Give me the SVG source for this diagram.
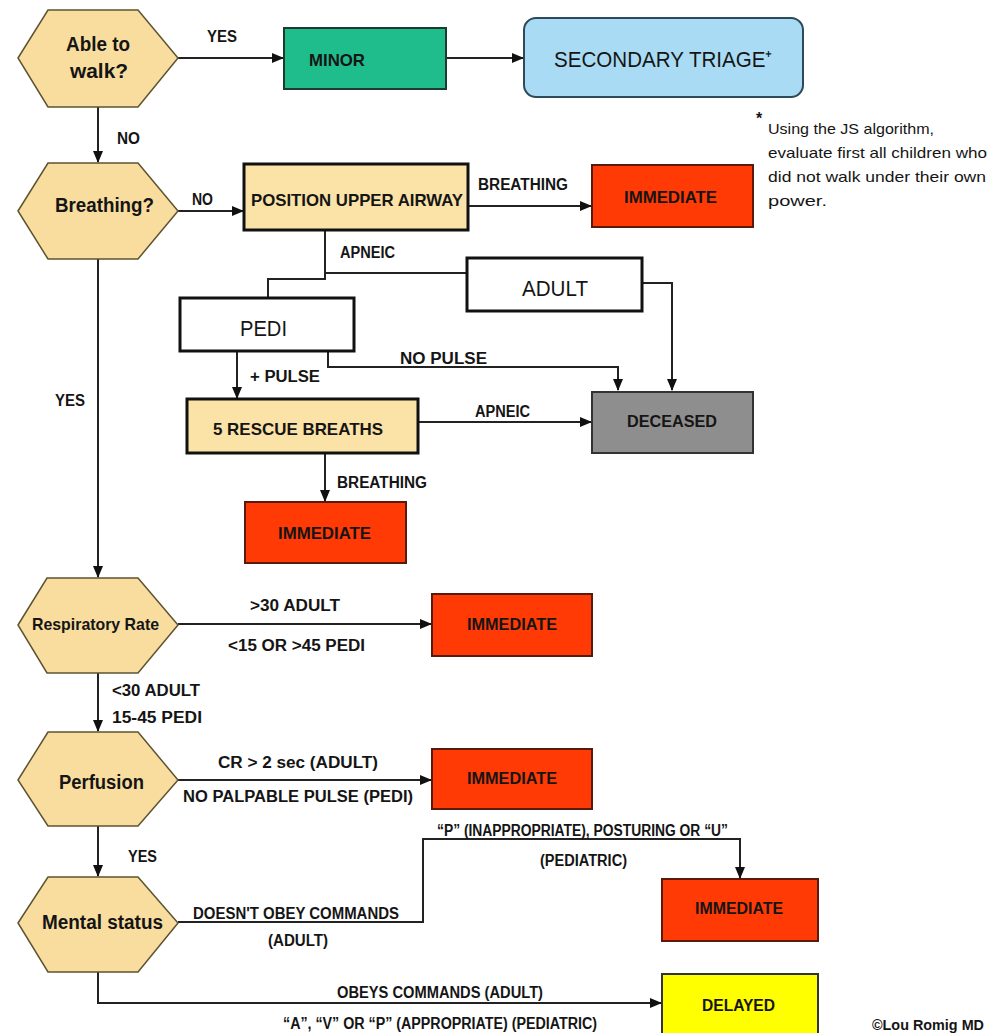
<svg xmlns="http://www.w3.org/2000/svg" width="989" height="1033" viewBox="0 0 989 1033">
<defs>
<marker id="ah" markerUnits="userSpaceOnUse" markerWidth="12" markerHeight="10" refX="11" refY="5" orient="auto">
<path d="M0,0 L12,5 L0,10 Z" fill="#111"/>
</marker>
<style>
.bg{fill:#fff}
.hex{fill:#F9DD9F;stroke:#5e5330;stroke-width:1.5}
.tan{fill:#FBE3A8;stroke:#111;stroke-width:3}
.white{fill:#fff;stroke:#111;stroke-width:3}
.red{fill:#FF3A05;stroke:#5a1a0a;stroke-width:2}
.teal{fill:#1FBD8C;stroke:#1f3b30;stroke-width:2}
.blue{fill:#A9DCF4;stroke:#2e4a58;stroke-width:2}
.gray{fill:#8E8E8E;stroke:#333;stroke-width:2}
.yellow{fill:#FFFF00;stroke:#333;stroke-width:2}
.c{fill:none;stroke:#222;stroke-width:2}
text{font-family:"Liberation Sans",Arial,sans-serif;fill:#151515}
.lb{font-size:16px;font-weight:bold}
.hx{font-size:20px;font-weight:bold}
.bx{font-size:17px;font-weight:bold}
.big{font-size:22px}
.note{font-size:15px}
</style>
</defs>
<rect class="bg" x="0" y="0" width="989" height="1033"/>

<g id="connectors">
<path class="c" d="M178,58 H283" marker-end="url(#ah)"/>
<path class="c" d="M446,58 H523" marker-end="url(#ah)"/>
<path class="c" d="M98,107 V162" marker-end="url(#ah)"/>
<path class="c" d="M178,211 H243" marker-end="url(#ah)"/>
<path class="c" d="M468,206 H591" marker-end="url(#ah)"/>
<path class="c" d="M325,230 V279 H268 V298"/>
<path class="c" d="M325,273 H467"/>
<path class="c" d="M642,283 H672 V390" marker-end="url(#ah)"/>
<path class="c" d="M328,351 V367 H618 V390" marker-end="url(#ah)"/>
<path class="c" d="M237,351 V398" marker-end="url(#ah)"/>
<path class="c" d="M418,422 H591" marker-end="url(#ah)"/>
<path class="c" d="M325,453 V501" marker-end="url(#ah)"/>
<path class="c" d="M98,259 V577" marker-end="url(#ah)"/>
<path class="c" d="M178,624 H431" marker-end="url(#ah)"/>
<path class="c" d="M98,673 V731" marker-end="url(#ah)"/>
<path class="c" d="M178,780 H431" marker-end="url(#ah)"/>
<path class="c" d="M98,826 V876" marker-end="url(#ah)"/>
<path class="c" d="M178,922 H423 V839 H740 V878" marker-end="url(#ah)"/>
<path class="c" d="M98,972 V1003 H661" marker-end="url(#ah)"/>
</g>

<g id="able-to-walk">
<polygon class="hex" points="18,58 48,10 138,10 178,58 138,107 48,107"/>
<text class="hx" x="66" y="51" textLength="64" lengthAdjust="spacingAndGlyphs">Able to</text>
<text class="hx" x="70" y="78" textLength="58" lengthAdjust="spacingAndGlyphs">walk?</text>
</g>
<g id="minor">
<rect class="teal" x="284" y="28" width="162" height="61"/>
<text class="bx" x="309" y="66" textLength="56" lengthAdjust="spacingAndGlyphs">MINOR</text>
</g>
<g id="secondary-triage">
<rect class="blue" x="524" y="18" width="279" height="79" rx="12"/>
<text class="big" x="554" y="67" textLength="218" lengthAdjust="spacingAndGlyphs">SECONDARY TRIAGE⁺</text>
</g>
<g id="footnote">
<text x="756" y="124" style="font-size:16px;font-weight:bold">*</text>
<text class="note" x="768" y="134" textLength="166" lengthAdjust="spacingAndGlyphs">Using the JS algorithm,</text>
<text class="note" x="768" y="158" textLength="219" lengthAdjust="spacingAndGlyphs">evaluate first all children who</text>
<text class="note" x="768" y="182" textLength="218" lengthAdjust="spacingAndGlyphs">did not walk under their own</text>
<text class="note" x="768" y="206" textLength="59" lengthAdjust="spacingAndGlyphs">power.</text>
</g>
<g id="breathing">
<polygon class="hex" points="18,211 48,163 138,163 178,211 138,259 48,259"/>
<text class="hx" x="55" y="212" textLength="99" lengthAdjust="spacingAndGlyphs">Breathing?</text>
</g>
<g id="position-upper-airway">
<rect class="tan" x="244" y="164" width="224" height="66"/>
<text class="bx" x="251" y="206" textLength="212" lengthAdjust="spacingAndGlyphs">POSITION UPPER AIRWAY</text>
</g>
<g id="immediate-1">
<rect class="red" x="592" y="165" width="161" height="62"/>
<text class="bx" x="624" y="203" textLength="93" lengthAdjust="spacingAndGlyphs">IMMEDIATE</text>
</g>
<g id="adult">
<rect class="white" x="467" y="258" width="175" height="53"/>
<text class="big" x="522" y="296" textLength="66" lengthAdjust="spacingAndGlyphs">ADULT</text>
</g>
<g id="pedi">
<rect class="white" x="180" y="298" width="174" height="53"/>
<text class="big" x="240" y="336" textLength="47" lengthAdjust="spacingAndGlyphs">PEDI</text>
</g>
<g id="rescue-breaths">
<rect class="tan" x="187" y="399" width="231" height="54"/>
<text class="bx" x="213" y="435" textLength="170" lengthAdjust="spacingAndGlyphs">5 RESCUE BREATHS</text>
</g>
<g id="deceased">
<rect class="gray" x="592" y="392" width="161" height="61"/>
<text class="bx" x="627" y="427" textLength="90" lengthAdjust="spacingAndGlyphs">DECEASED</text>
</g>
<g id="immediate-2">
<rect class="red" x="245" y="502" width="161" height="61"/>
<text class="bx" x="278" y="539" textLength="93" lengthAdjust="spacingAndGlyphs">IMMEDIATE</text>
</g>
<g id="respiratory-rate">
<polygon class="hex" points="18,625 47,578 138,578 178,625 138,673 47,673"/>
<text class="bx" x="32" y="630" textLength="127" lengthAdjust="spacingAndGlyphs">Respiratory Rate</text>
</g>
<g id="immediate-3">
<rect class="red" x="432" y="594" width="160" height="62"/>
<text class="bx" x="467" y="630" textLength="90" lengthAdjust="spacingAndGlyphs">IMMEDIATE</text>
</g>
<g id="perfusion">
<polygon class="hex" points="18,780 48,732 138,732 178,780 138,826 48,826"/>
<text class="hx" x="59" y="789" textLength="85" lengthAdjust="spacingAndGlyphs">Perfusion</text>
</g>
<g id="immediate-4">
<rect class="red" x="432" y="749" width="160" height="60"/>
<text class="bx" x="467" y="784" textLength="90" lengthAdjust="spacingAndGlyphs">IMMEDIATE</text>
</g>
<g id="mental-status">
<polygon class="hex" points="18,923 48,877 138,877 178,923 138,972 48,972"/>
<text class="hx" x="42" y="929" textLength="121" lengthAdjust="spacingAndGlyphs">Mental status</text>
</g>
<g id="immediate-5">
<rect class="red" x="662" y="879" width="156" height="62"/>
<text class="bx" x="695" y="914" textLength="88" lengthAdjust="spacingAndGlyphs">IMMEDIATE</text>
</g>
<g id="delayed">
<rect class="yellow" x="662" y="974" width="156" height="64"/>
<text class="bx" x="702" y="1011" textLength="73" lengthAdjust="spacingAndGlyphs">DELAYED</text>
</g>

<g id="labels">
<text class="lb" x="207" y="42" textLength="30" lengthAdjust="spacingAndGlyphs">YES</text>
<text class="lb" x="117" y="144" textLength="23" lengthAdjust="spacingAndGlyphs">NO</text>
<text class="lb" x="192" y="205" textLength="21" lengthAdjust="spacingAndGlyphs">NO</text>
<text class="lb" x="478" y="190" textLength="90" lengthAdjust="spacingAndGlyphs">BREATHING</text>
<text class="lb" x="340" y="258" textLength="55" lengthAdjust="spacingAndGlyphs">APNEIC</text>
<text class="lb" x="400" y="364" textLength="87" lengthAdjust="spacingAndGlyphs">NO PULSE</text>
<text class="lb" x="250" y="382" textLength="70" lengthAdjust="spacingAndGlyphs">+ PULSE</text>
<text class="lb" x="475" y="417" textLength="55" lengthAdjust="spacingAndGlyphs">APNEIC</text>
<text class="lb" x="337" y="488" textLength="90" lengthAdjust="spacingAndGlyphs">BREATHING</text>
<text class="lb" x="55" y="406" textLength="30" lengthAdjust="spacingAndGlyphs">YES</text>
<text class="lb" x="250" y="611" textLength="90" lengthAdjust="spacingAndGlyphs">&gt;30 ADULT</text>
<text class="lb" x="228" y="651" textLength="137" lengthAdjust="spacingAndGlyphs">&lt;15 OR &gt;45 PEDI</text>
<text class="lb" x="112" y="696" textLength="88" lengthAdjust="spacingAndGlyphs">&lt;30 ADULT</text>
<text class="lb" x="112" y="723" textLength="90" lengthAdjust="spacingAndGlyphs">15-45 PEDI</text>
<text class="lb" x="218" y="768" textLength="160" lengthAdjust="spacingAndGlyphs">CR &gt; 2 sec (ADULT)</text>
<text class="lb" x="183" y="802" textLength="230" lengthAdjust="spacingAndGlyphs">NO PALPABLE PULSE (PEDI)</text>
<text class="lb" x="128" y="862" textLength="29" lengthAdjust="spacingAndGlyphs">YES</text>
<text class="lb" x="193" y="919" textLength="206" lengthAdjust="spacingAndGlyphs">DOESN'T OBEY COMMANDS</text>
<text class="lb" x="268" y="946" textLength="60" lengthAdjust="spacingAndGlyphs">(ADULT)</text>
<text class="lb" x="437" y="836" textLength="291" lengthAdjust="spacingAndGlyphs">“P” (INAPPROPRIATE), POSTURING OR “U”</text>
<text class="lb" x="540" y="866" textLength="87" lengthAdjust="spacingAndGlyphs">(PEDIATRIC)</text>
<text class="lb" x="337" y="998" textLength="206" lengthAdjust="spacingAndGlyphs">OBEYS COMMANDS (ADULT)</text>
<text class="lb" x="283" y="1029" textLength="314" lengthAdjust="spacingAndGlyphs">“A”, “V” OR “P” (APPROPRIATE) (PEDIATRIC)</text>
<text x="872" y="1030" textLength="112" lengthAdjust="spacingAndGlyphs" style="font-size:14px;font-weight:bold">©Lou Romig MD</text>
</g>
</svg>
